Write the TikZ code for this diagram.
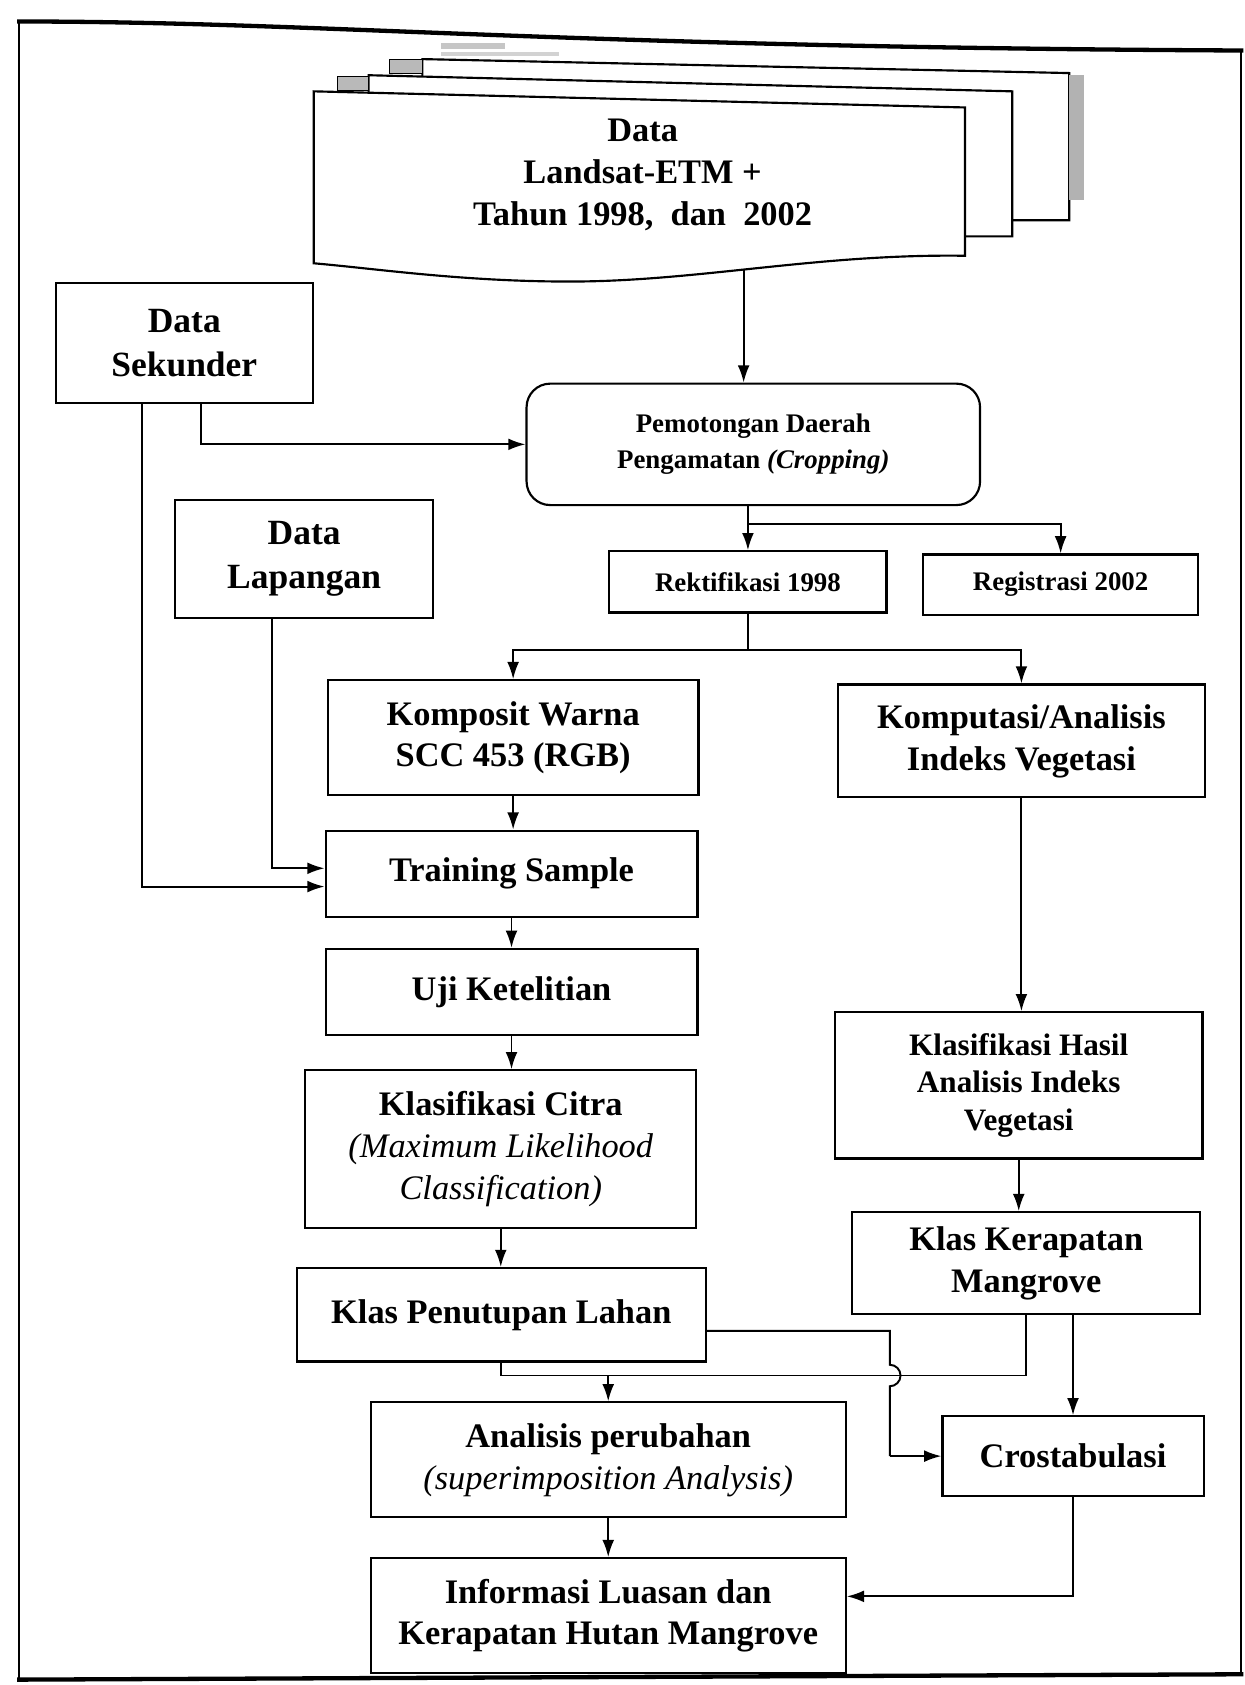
\documentclass[tikz,border=0pt]{standalone}
\usepackage{fontspec}
\setmainfont{Liberation Serif}
\usetikzlibrary{arrows.meta}
\newcommand\myfA{\fontsize{32}{39}\selectfont\bfseries}
\newcommand\myfB{\fontsize{29}{35}\selectfont\bfseries}
\newcommand\myfC{\fontsize{25}{33}\selectfont\bfseries}
\tikzset{
  box/.style={draw, line width=2pt, fill=white, align=center, inner sep=2pt, font=\myfA},
  arr/.style={line width=1.8pt, -{Latex[length=16pt,width=11pt]}},
  ln/.style={line width=1.8pt},
  docsheet/.style={draw, line width=2pt, fill=white},
  tab/.style={draw, line width=0.8pt, fill=gray!55},
}
\begin{document}
\begin{tikzpicture}[x=1pt,y=-1pt]
\useasboundingbox (0,0) rectangle (1158,1568);
% outer frame
\draw[line width=2pt] (18,20) -- (18,1563);
\draw[line width=2pt] (1155,47) -- (1155,1558);
\draw[line width=4pt] (16,20) .. controls (300,20) and (520,44) .. (1157,47);
\draw[line width=4pt] (16,1563) -- (1157,1558);

% document stack
\draw[docsheet] (393,55) -- (995,68) -- (995,205) -- (393,205) -- cycle;
\fill[gray!60] (995,70) rectangle (1009,186);
\draw[tab] (362,55) rectangle (393,68);
\fill[gray!45] (410,40) rectangle (470,46);
\fill[gray!35] (410,48) rectangle (520,52);
\draw[docsheet] (343,70) -- (942,85) -- (942,220) -- (343,220) -- cycle;
\draw[tab] (314,71) rectangle (343,84);
\draw[docsheet] (292,85) -- (898,100) -- (898,238)
   .. controls (760,236) and (650,262) .. (530,262)
   .. controls (430,262) and (350,250) .. (292,245) -- cycle;
\node[align=center, font=\myfA, inner sep=0pt] (doc) at (598,163)
   {Data\\Landsat-ETM +\\Tahun 1998,~ dan~ 2002};
\coordinate (docb) at (692,251);

% nodes
\node[box, font=\fontsize{33}{41}\selectfont\bfseries, minimum width=239pt, minimum height=112pt] (sek) at (171.5,319) {Data\\Sekunder};
\node[box, font=\myfC, rounded corners=22pt, minimum width=422pt, minimum height=113pt] (crop) at (701,413.5) {Pemotongan Daerah\\Pengamatan \textit{(Cropping)}};
\node[box, font=\fontsize{33}{41}\selectfont\bfseries, minimum width=240pt, minimum height=110pt] (lap) at (283,520) {Data\\Lapangan};
\node[box, font=\myfC, minimum width=258pt, minimum height=57pt] (rek) at (696,541.5) {Rektifikasi 1998};
\node[box, font=\myfC, minimum width=256pt, minimum height=56pt] (reg) at (987,544) {Registrasi 2002};
\node[box, minimum width=345pt, minimum height=107pt] (komp) at (477.5,686.5) {Komposit Warna\\SCC 453 (RGB)};
\node[box, minimum width=341pt, minimum height=105pt] (kmpt) at (950.5,689.5) {Komputasi/Analisis\\Indeks Vegetasi};
\node[box, minimum width=346pt, minimum height=80pt] (train) at (476,813) {Training Sample};
\node[box, minimum width=346pt, minimum height=80pt] (uji) at (476,923) {Uji Ketelitian};
\node[box, minimum width=364pt, minimum height=147pt] (kcit) at (466,1069.5) {Klasifikasi Citra\\{\mdseries\itshape (Maximum Likelihood}\\{\mdseries\itshape Classification)}};
\node[box, font=\myfB, minimum width=342pt, minimum height=136pt] (khas) at (948,1010) {Klasifikasi Hasil\\Analisis Indeks\\Vegetasi};
\node[box, minimum width=324pt, minimum height=95pt] (kker) at (955,1175.5) {Klas Kerapatan\\Mangrove};
\node[box, minimum width=381pt, minimum height=87pt] (kpen) at (466.5,1223.5) {Klas Penutupan Lahan};
\node[box, minimum width=442pt, minimum height=107pt] (anal) at (566,1358.5) {Analisis perubahan\\{\mdseries\itshape (superimposition Analysis)}};
\node[box, minimum width=243pt, minimum height=74pt] (cros) at (998.5,1355) {Crostabulasi};
\node[box, minimum width=442pt, minimum height=107pt] (info) at (566,1503.5) {Informasi Luasan dan\\Kerapatan Hutan Mangrove};

% connectors
\draw[arr] (docb) -- (docb |- crop.north);
\draw[arr] ([xshift=15.5pt]sek.south) |- (crop.west);
\draw[arr] ([xshift=-39.5pt]sek.south) |- ([yshift=-12pt]train.west);
\draw[arr] ([xshift=-30pt]lap.south) |- ([yshift=5pt]train.west);

\coordinate (j1) at (696,488);
\draw[arr] (rek.north |- crop.south) -- (rek.north);
\draw[arr] (j1) -| (reg.north);

\coordinate (j2) at (696,605);
\draw[ln] (rek.south) -- (j2);
\draw[arr] (j2) -| (komp.north);
\draw[arr] (j2) -| (kmpt.north);

\draw[arr] (komp.south) -- (komp.south |- train.north);
\draw[arr] (train.south) -- (uji.north);
\draw[arr] (uji.south) -- (uji.south |- kcit.north);
\draw[arr] (kmpt.south) -- (kmpt.south |- khas.north);
\draw[arr] (kcit.south) -- (kcit.south |- kpen.north);
\draw[arr] (khas.south) -- (khas.south |- kker.north);

% merge of the two class results
\coordinate (mL) at (466.5,1280);
\coordinate (mR) at (955,1280);
\draw[ln] (kpen.south) -- (mL) -- (mR) -- (kker.south);
\draw[arr] (anal.north |- mL) -- (anal.north);

% klas penutupan -> crostabulasi, hopping over the merge line
\coordinate (h0) at (657,1238.5);
\coordinate (h1) at (828,1238.5);
\coordinate (h2) at (828,1270);
\coordinate (h3) at (828,1355);
\draw[ln] (h0) -- (h1) -- (h2) arc[start angle=90, end angle=-90, radius=10pt] -- (h3);
\draw[arr] (h3) -- (cros.west);

\draw[arr] (cros.north |- kker.south) -- (cros.north);
\draw[arr] (anal.south) -- (info.north);
\draw[arr] (cros.south) |- ([yshift=18pt]info.east);
\end{tikzpicture}
\end{document}
